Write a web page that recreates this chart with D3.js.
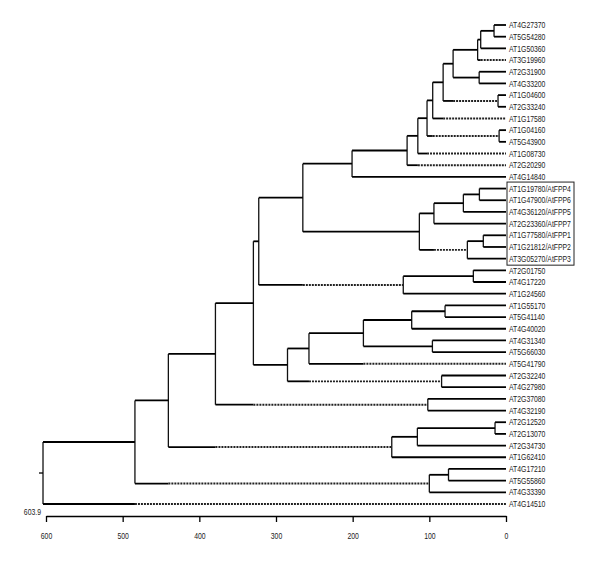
<!DOCTYPE html>
<html><head><meta charset="utf-8">
<script src="https://cdn.jsdelivr.net/npm/d3@7"></script>
<style>body{margin:0;background:#fff} svg{display:block}</style>
</head><body>
<script>
// ---- DATA ----
const leaves = ["AT4G27370","AT5G54280","AT1G50360","AT3G19960","AT2G31900","AT4G33200",
  "AT1G04600","AT2G33240","AT1G17580","AT1G04160","AT5G43900","AT1G08730","AT2G20290",
  "AT4G14840","AT1G19780/AtFPP4","AT1G47900/AtFPP6","AT4G36120/AtFPP5","AT2G23360/AtFPP7",
  "AT1G77580/AtFPP1","AT1G21812/AtFPP2","AT3G05270/AtFPP3","AT2G01750","AT4G17220","AT1G24560",
  "AT1G55170","AT5G41140","AT4G40020","AT4G31340","AT5G66030","AT5G41790","AT2G32240",
  "AT4G27980","AT2G37080","AT4G32190","AT2G12520","AT2G13070","AT2G34730","AT1G62410",
  "AT4G17210","AT5G55860","AT4G33390","AT4G14510"];
// merges: negative = leaf (1-based), positive = earlier merge (1-based)
const merges = [[-1,-2],[1,-3],[2,-4],[-5,-6],[3,4],[-7,-8],[5,6],[7,-9],[-10,-11],[8,9],
  [10,-12],[11,-13],[12,-14],[-15,-16],[14,-17],[15,-18],[-19,-20],[17,-21],[16,18],[13,19],
  [-22,-23],[21,-24],[20,22],[-25,-26],[24,-27],[-28,-29],[25,26],[27,-30],[-31,-32],[28,29],
  [23,30],[-33,-34],[31,32],[-35,-36],[34,-37],[35,-38],[33,36],[-39,-40],[38,-41],[37,39],[40,-42]];
const heights = [15.6,33,37,35,69,10.4,82,95.6,9,103,115,129,200.8,34.7,55.6,94,29.6,50.4,113,265,
  42.6,134,322.5,79.5,123,96,186,257,84,285,329.5,102,379,14.3,115.6,149,440.4,75,100,484,603.9];
// which child branch is drawn dotted beyond its sibling's height (0 none, 1 first, 2 second)
const dashedChild = [0,0,2,0,0,0,2,2,0,2,2,2,0,0,0,0,0,0,2,0,0,0,2,0,0,0,0,2,0,2,0,0,2,0,0,0,2,0,0,2,2];
const tickValues = [600,500,400,300,200,100,0];
const rootLabel = "603.9";
const boxedRange = [14,20];

// ---- DRAW ----
const W=600,H=561;
const svg = d3.select("body").append("svg").attr("width",W).attr("height",H);
const x = d3.scaleLinear().domain([600,0]).range([46,506]);
const y = d3.scalePoint().domain(d3.range(leaves.length)).range([25,504]);

const nodeY = [];
function cH(ref){ return ref<0 ? 0 : heights[ref-1]; }
function cY(ref){ return ref<0 ? y(-ref-1) : nodeY[ref-1]; }
merges.forEach((m,k)=>{ nodeY[k] = (cY(m[0])+cY(m[1]))/2; });

const g = svg.append("g");
const solid = {stroke:"#000","stroke-width":1.8};
function line(x1,y1,x2,y2,opt){
  const l = g.append("line").attr("x1",x1).attr("y1",y1).attr("x2",x2).attr("y2",y2)
    .attr("stroke",opt.stroke).attr("stroke-width",opt["stroke-width"]);
  if(opt.dash) l.attr("stroke-dasharray",opt.dash);
  return l;
}
merges.forEach((m,k)=>{
  const h = heights[k], px = x(h);
  line(px, cY(m[0]), px, cY(m[1]), {stroke:"#111","stroke-width":1.3});
  m.forEach((c,i)=>{
    const cy = cY(c), cx = x(cH(c));
    if(dashedChild[k]===i+1){
      const sx = x(cH(m[1-i]));
      line(px, cy, sx, cy, solid);
      line(sx, cy, cx, cy, {stroke:"#222","stroke-width":1.9,dash:"2,1"});
    } else {
      line(px, cy, cx, cy, solid);
    }
  });
});
// root stub
const rk = merges.length-1;
line(x(heights[rk])-4, nodeY[rk], x(heights[rk]), nodeY[rk], {stroke:"#000","stroke-width":1.3});

// leaf labels (condensed)
const fontFam = "'Liberation Sans','Arial',sans-serif";
const sx = 0.78;
svg.append("g").selectAll("text").data(leaves).join("text")
  .attr("transform",(d,i)=>`translate(${x(0)+3},${y(i)}) scale(${sx},1)`)
  .attr("dy","0.36em")
  .attr("font-family",fontFam).attr("font-size",8.8).attr("fill","#222")
  .text(d=>d);

// box around FPP group
svg.append("rect").attr("x", x(0)+1).attr("y", y(boxedRange[0])-6.5)
  .attr("width", 67).attr("height", y(boxedRange[1])-y(boxedRange[0])+13)
  .attr("fill","none").attr("stroke","#222").attr("stroke-width",1);

// axis
const axis = d3.axisBottom(x).tickValues(tickValues).tickSize(6).tickSizeOuter(0).tickPadding(11).tickFormat(d3.format("d"));
const ag = svg.append("g").attr("transform","translate(0,516)").call(axis);
ag.select(".domain").attr("stroke","#000").attr("stroke-width",1.5);
ag.selectAll(".tick line").attr("stroke","#000").attr("stroke-width",1.3);
ag.selectAll("text").attr("font-family",fontFam).attr("font-size",8.8).attr("fill","#222")
  .attr("transform",`scale(${sx},1)`);

svg.append("text").attr("transform",`translate(${x(heights[rk])-2},512) scale(${sx},1)`).attr("dy","0.35em")
  .attr("text-anchor","end").attr("font-family",fontFam).attr("font-size",8.8).attr("fill","#222")
  .text(rootLabel);
</script>
</body></html>
